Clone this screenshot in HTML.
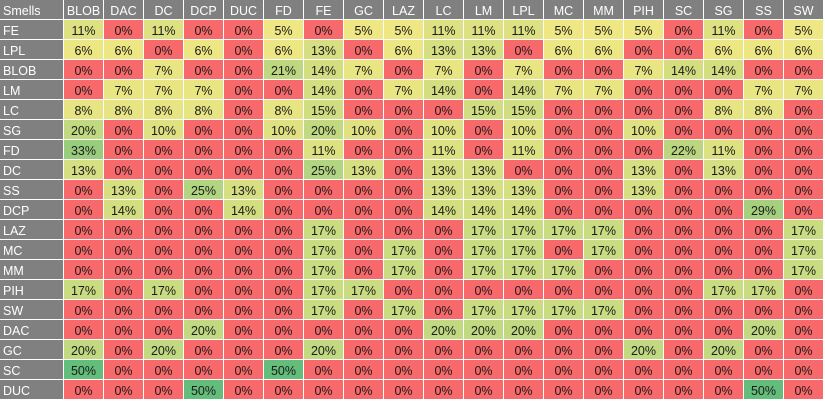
<!DOCTYPE html>
<html><head><meta charset="utf-8"><style>
html,body{margin:0;padding:0;background:#fff;width:825px;height:401px;overflow:hidden}
svg text{font-family:"Liberation Sans",sans-serif;font-size:12.5px}
</style></head><body>
<svg id="chart" width="825" height="401" xmlns="http://www.w3.org/2000/svg"></svg>
<script>
const columns = ["BLOB","DAC","DC","DCP","DUC","FD","FE","GC","LAZ","LC","LM","LPL","MC","MM","PIH","SC","SG","SS","SW"];
const rows = ["FE","LPL","BLOB","LM","LC","SG","FD","DC","SS","DCP","LAZ","MC","MM","PIH","SW","DAC","GC","SC","DUC"];
const rowFE   = [11,0,11,0,0,5,0,5,5,11,11,11,5,5,5,0,11,0,5];
const rowLPL  = [6,6,0,6,0,6,13,0,6,13,13,0,6,6,0,0,6,6,6];
const rowBLOB = [0,0,7,0,0,21,14,7,0,7,0,7,0,0,7,14,14,0,0];
const rowLM   = [0,7,7,7,0,0,14,0,7,14,0,14,7,7,0,0,0,7,7];
const rowLC   = [8,8,8,8,0,8,15,0,0,0,15,15,0,0,0,0,8,8,0];
const rowSG   = [20,0,10,0,0,10,20,10,0,10,0,10,0,0,10,0,0,0,0];
const rowFD   = [33,0,0,0,0,0,11,0,0,11,0,11,0,0,0,22,11,0,0];
const rowDC   = [13,0,0,0,0,0,25,13,0,13,13,0,0,0,13,0,13,0,0];
const rowSS   = [0,13,0,25,13,0,0,0,0,13,13,13,0,0,13,0,0,0,0];
const rowDCP  = [0,14,0,0,14,0,0,0,0,14,14,14,0,0,0,0,0,29,0];
const rowLAZ  = [0,0,0,0,0,0,17,0,0,0,17,17,17,17,0,0,0,0,17];
const rowMC   = [0,0,0,0,0,0,17,0,17,0,17,17,0,17,0,0,0,0,17];
const rowMM   = [0,0,0,0,0,0,17,0,17,0,17,17,17,0,0,0,0,0,17];
const rowPIH  = [17,0,17,0,0,0,17,17,0,0,0,0,0,0,0,0,17,17,0];
const rowSW   = [0,0,0,0,0,0,17,0,17,0,17,17,17,17,0,0,0,0,0];
const rowDAC  = [0,0,0,20,0,0,0,0,0,20,20,20,0,0,0,0,0,20,0];
const rowGC   = [20,0,20,0,0,0,20,0,0,0,0,0,0,0,20,0,20,0,0];
const rowSC   = [50,0,0,0,0,50,0,0,0,0,0,0,0,0,0,0,0,0,0];
const rowDUC  = [0,0,0,50,0,0,0,0,0,0,0,0,0,0,0,0,0,50,0];
const values = [rowFE,rowLPL,rowBLOB,rowLM,rowLC,rowSG,rowFD,rowDC,rowSS,rowDCP,rowLAZ,rowMC,rowMM,rowPIH,rowSW,rowDAC,rowGC,rowSC,rowDUC];

const svg = document.getElementById('chart');
const NS = 'http://www.w3.org/2000/svg';
const firstW = 64, colW = 40, rowH = 20;
function xPos(i){ return firstW + i*colW; }
function yPos(j){ return rowH + j*rowH; }
function color(v){
  if (v <= 0) return '#F8696B';
  const t = Math.min(v/50,1);
  const a=[255,235,132], b=[99,190,123];
  return 'rgb('+a.map((c,k)=>Math.round(c+(b[k]-c)*t)).join(',')+')';
}
function mk(tag, attrs){ const e=document.createElementNS(NS,tag); for(const k in attrs) e.setAttribute(k,attrs[k]); svg.appendChild(e); return e; }

// header
let r = mk('rect',{x:0,y:0,width:firstW-1,height:rowH-1,fill:'#808080'});


let t = mk('text',{x:3,y:15,fill:'#fff'}); t.textContent='Smells';


columns.forEach((c,i)=>{
  const rr = mk('rect',{x:xPos(i),y:0,width:colW-1,height:rowH-1,fill:'#808080'});
  
  
  const tt = mk('text',{x:xPos(i)+colW/2-0.5,y:15,fill:'#fff','text-anchor':'middle'});
  tt.textContent=c;
  
  
});
rows.forEach((rname,j)=>{
  const rr = mk('rect',{x:0,y:yPos(j),width:firstW-1,height:rowH-1,fill:'#808080'});
  
  
  const tt = mk('text',{x:3,y:yPos(j)+15,fill:'#fff'});
  tt.textContent=rname;
  
  
  values[j].forEach((v,i)=>{
    const cell = mk('rect',{x:xPos(i),y:yPos(j),width:colW-1,height:rowH-1,fill:color(v)});
    
    
    const ct = mk('text',{x:xPos(i)+colW/2-0.5,y:yPos(j)+15,fill:'#1a1a1a','text-anchor':'middle'});
    ct.textContent=v+'%';
    
    
  });
});
</script>
</body></html>
